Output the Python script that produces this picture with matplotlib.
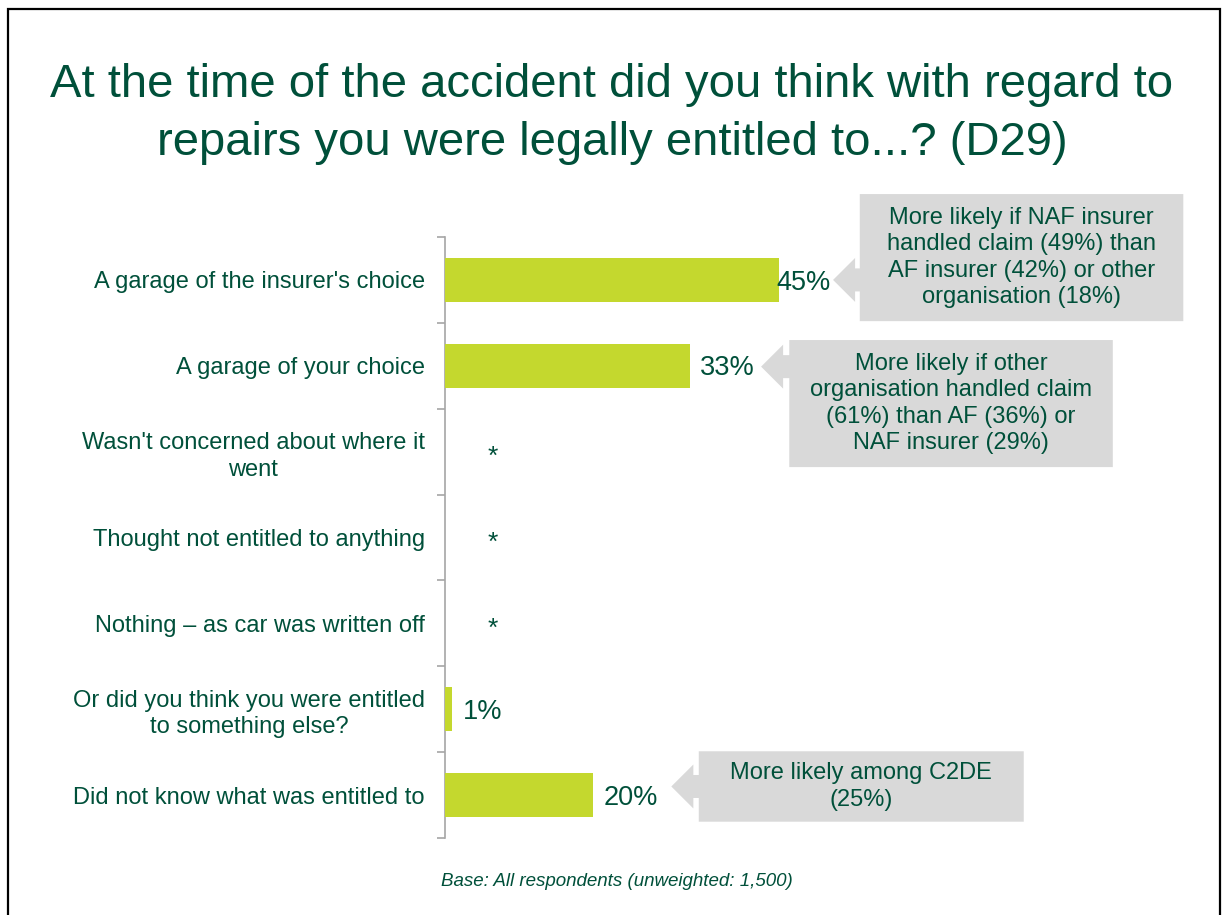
import matplotlib
matplotlib.use("Agg")
import matplotlib.pyplot as plt
from matplotlib.patches import Polygon, Rectangle

plt.rcParams["font.family"] = ["Liberation Sans", "DejaVu Sans"]

# Colours
GREEN = "#00503A"
BAR = "#C4D82E"
NOTE_GREY = "#D9D9D9"
AXIS_GREY = "#A6A6A6"

# -----------------------------
# Data
# -----------------------------
title_lines = [
    "At the time of the accident did you think with regard to",
    "repairs you were legally entitled to...? (D29)",
]
categories = [
    "A garage of the insurer's choice",
    "A garage of your choice",
    "Wasn't concerned about where it\nwent",
    "Thought not entitled to anything",
    "Nothing \u2013 as car was written off",
    "Or did you think you were entitled\nto something else?",
    "Did not know what was entitled to",
]
values = [45, 33, 0, 0, 0, 1, 20]
value_labels = ["45%", "33%", "*", "*", "*", "1%", "20%"]

note_texts = [
    "More likely if NAF insurer\nhandled claim (49%) than\nAF insurer (42%) or other\norganisation (18%)",
    "More likely if other\norganisation handled claim\n(61%) than AF (36%) or\nNAF insurer (29%)",
    "More likely among C2DE\n(25%)",
]
base_note = "Base: All respondents (unweighted: 1,500)"

# Gap between bar end and its value label (x units); the first one is tucked
# in so it clears the callout arrow
label_gaps = [-0.4, 1.35, 0, 0, 0, 1.35, 1.35]

# Callout layout: tip x, tip y, box left, box right, box top, box bottom
note_layout = [
    (52.3, 0.00, 55.9, 99.5, -1.00, 0.48),
    (42.6, 1.01, 46.4, 90.0, 0.70, 2.18),
    (30.5, 5.90, 34.2, 78.0, 5.49, 6.31),
]


def draw_callout(ax, tip_x, tip_y, x0, x1, y0, y1, text):
    head_len, head_half, shaft_half = 2.97, 0.256, 0.134
    hb = tip_x + head_len
    pts = [
        (x0, y0), (x1, y0), (x1, y1), (x0, y1),
        (x0, tip_y + shaft_half), (hb, tip_y + shaft_half),
        (hb, tip_y + head_half), (tip_x, tip_y),
        (hb, tip_y - head_half), (hb, tip_y - shaft_half),
        (x0, tip_y - shaft_half),
    ]
    ax.add_patch(Polygon(pts, closed=True, facecolor=NOTE_GREY,
                         edgecolor="none", clip_on=False, zorder=1))
    ax.text((x0 + x1) / 2, (y0 + y1) / 2, text, ha="center", va="center",
            multialignment="center", fontsize=17, color=GREEN,
            linespacing=1.27, clip_on=False, zorder=2)


fig = plt.figure(figsize=(12.28, 9.15), dpi=100)
ax = fig.add_axes([445 / 1228, 77 / 915, 742 / 1228, 601 / 915])

rows = list(range(len(categories)))
ax.barh(rows, values, height=0.51, color=BAR, zorder=3)

for r, v, lab, gap in zip(rows, values, value_labels, label_gaps):
    if v == 0:
        ax.text(6.5, r + 0.06, lab, ha="center", va="center",
                fontsize=19, color=GREEN)
    else:
        ax.text(v + gap, r + 0.03, lab, ha="left", va="center",
                fontsize=19.5, color=GREEN, zorder=4)

for (tx, ty, x0, x1, y0, y1), txt in zip(note_layout, note_texts):
    draw_callout(ax, tx, ty, x0, x1, y0, y1, txt)

ax.set_xlim(0, 100)
ax.set_ylim(len(categories) - 0.5, -0.5)

# Category labels at row centres, tick marks on row boundaries
ax.set_yticks([r - 0.5 for r in rows] + [len(categories) - 0.5])
ax.set_yticklabels([])
ax.set_yticks(rows, minor=True)
ax.set_yticklabels(categories, minor=True, fontsize=17, color=GREEN)
for lab in ax.get_yticklabels(minor=True):
    lab.set_multialignment("center")
    lab.set_linespacing(1.26)
ax.tick_params(axis="y", which="major", length=5.5, width=1.2,
               color=AXIS_GREY, direction="out")
ax.tick_params(axis="y", which="minor", length=0, pad=14.5)
ax.set_xticks([])

for side in ("top", "right", "bottom"):
    ax.spines[side].set_visible(False)
ax.spines["left"].set_color(AXIS_GREY)
ax.spines["left"].set_linewidth(1.2)

# Title
fig.text(612 / 1228, 1 - 97 / 915, title_lines[0], ha="center",
         va="baseline", fontsize=34, color=GREEN)
fig.text(612 / 1228, 1 - 155 / 915, title_lines[1], ha="center",
         va="baseline", fontsize=34, color=GREEN)

# Footer
fig.text(617 / 1228, 1 - 882 / 915, base_note, ha="center", va="center",
         fontsize=13.5, style="italic", color=GREEN)

# Slide frame
fig.patches.append(Rectangle((8 / 1228, -0.05), 1212 / 1228, 1.05 - 9 / 915,
                             transform=fig.transFigure, fill=False,
                             edgecolor="black", linewidth=1.6))

fig.savefig("out.png", dpi=100)
